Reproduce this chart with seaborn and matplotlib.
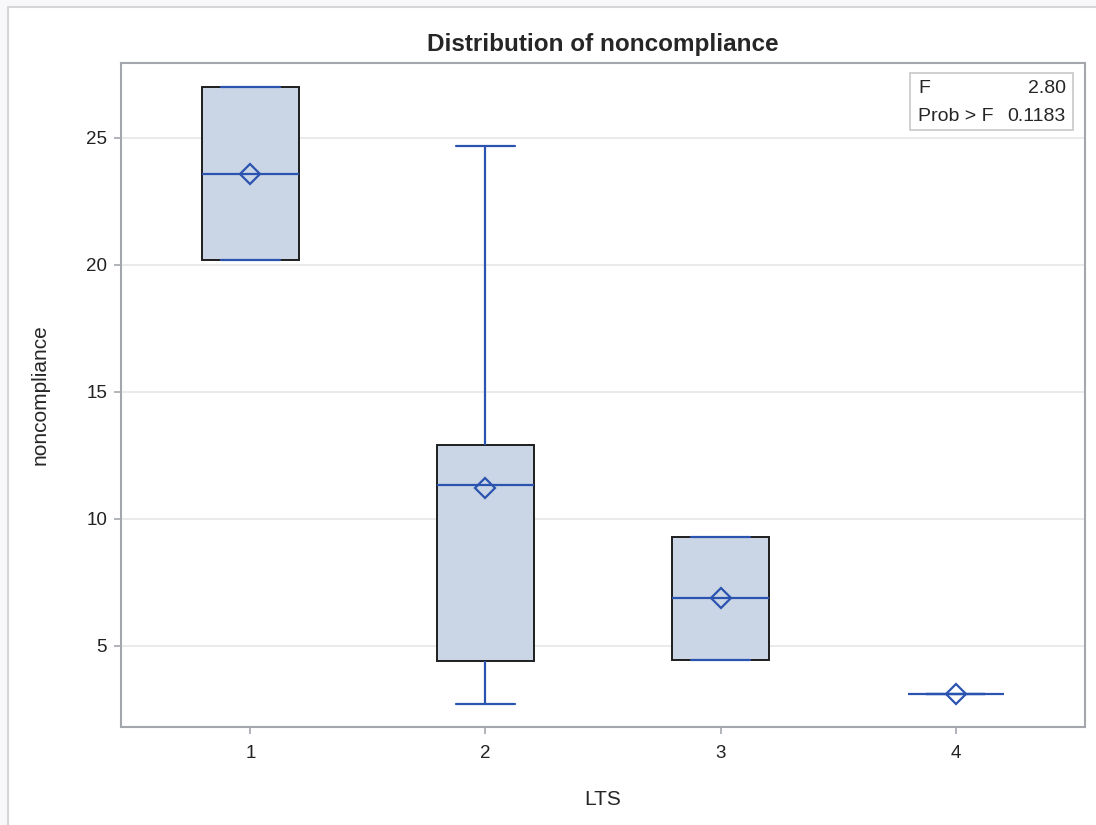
import pandas as pd
import matplotlib
matplotlib.use("Agg")
import matplotlib.pyplot as plt
from matplotlib.patches import Rectangle
import seaborn as sns

# valores (caixas: min, Q1, mediana, Q3, max)
lts = ["1", "2", "3", "4"]
g1 = [20.2, 20.2, 23.6, 27.0, 27.0]
g2 = [2.7, 4.4, 11.35, 12.9, 24.7]
g3 = [4.45, 4.45, 6.9, 9.3, 9.3]
g4 = [3.1]
f_value = "2.80"
prob_f = "0.1183"

grupos = [g1, g2, g3, g4]
df = pd.DataFrame({
    "LTS": [c for c, g in zip(lts, grupos) for _ in g],
    "noncompliance": [v for g in grupos for v in g],
})

sns.set_style("white")
plt.rcParams["font.family"] = ["Liberation Sans", "DejaVu Sans"]

azul = "#2B53B0"
cinza = "#A3A7AB"

fig = plt.figure(figsize=(10.96, 8.25), dpi=100, facecolor="#F8F8FB")
fig.add_artist(Rectangle((8 / 1096, -0.1), 1.2, 0.1 + 818 / 825, transform=fig.transFigure,
                         facecolor="white", edgecolor="#D6D6D9", linewidth=1.5, zorder=-10))
ax = fig.add_axes([0.1104, 0.1188, 0.8796, 0.8048])

sns.boxplot(data=df, x="LTS", y="noncompliance", order=lts, ax=ax,
            width=0.41, whis=(0, 100), color="#CAD5E5", saturation=1, showmeans=True,
            boxprops=dict(edgecolor="#1E1E1E", linewidth=1.4),
            medianprops=dict(color=azul, linewidth=1.6),
            whiskerprops=dict(color=azul, linewidth=1.6),
            capprops=dict(color=azul, linewidth=1.6),
            meanprops=dict(marker="D", markerfacecolor="none", markeredgecolor=azul,
                           markeredgewidth=1.6, markersize=10),
            capwidths=0.25)

# grupo 4 tem um único valor: só a linha
ax.containers[0].boxes[3].set_visible(False)

ax.set_xlim(-0.55, 3.55)
ax.set_ylim(1.81, 27.95)
ax.set_yticks([5, 10, 15, 20, 25])
ax.yaxis.grid(True, color="#E6E6E6", linewidth=1.2)
ax.set_axisbelow(True)
for s in ax.spines.values():
    s.set_color(cinza)
    s.set_linewidth(1.5)
ax.tick_params(axis="both", direction="out", length=5, width=1.2, color=cinza,
               labelsize=13.5, labelcolor="#222222", pad=5, left=True, bottom=True)
ax.tick_params(axis="x", pad=8)

ax.set_title("Distribution of noncompliance", fontsize=17.5, fontweight="bold", pad=9)
ax.set_xlabel("LTS", fontsize=15, labelpad=20)
ax.set_ylabel("noncompliance", fontsize=15, labelpad=26)

# caixa com estatística F
ax.add_patch(Rectangle((0.8185, 0.899), 0.169, 0.086, transform=ax.transAxes,
                       facecolor="white", edgecolor="#C8C8C8", linewidth=1.2, zorder=5))
ax.text(0.8268, 0.961, "F", transform=ax.transAxes, fontsize=14, va="center", zorder=6)
ax.text(0.980, 0.961, f_value, transform=ax.transAxes, fontsize=14, va="center", ha="right", zorder=6)
ax.text(0.8268, 0.920, "Prob > F", transform=ax.transAxes, fontsize=14, va="center", zorder=6)
ax.text(0.980, 0.920, prob_f, transform=ax.transAxes, fontsize=14, va="center", ha="right", zorder=6)

fig.savefig("out.png", dpi=100, facecolor=fig.get_facecolor())
